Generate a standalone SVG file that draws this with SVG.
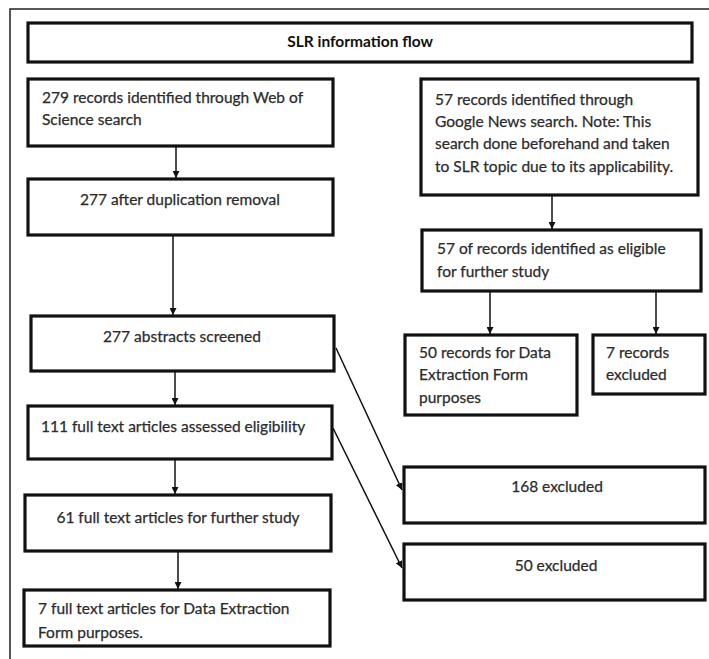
<svg xmlns="http://www.w3.org/2000/svg" width="709" height="659" viewBox="0 0 709 659">
<defs>
<marker id="ah" viewBox="0 0 10 10" refX="10" refY="5" markerWidth="7" markerHeight="7" markerUnits="userSpaceOnUse" orient="auto"><path d="M0,0 L10,5 L0,10 z" fill="#111"/></marker>
<style>
.box{fill:#fff;stroke:#111;stroke-width:3.2}
.t{font-family:Lato,"Liberation Sans",sans-serif;font-size:15.5px;fill:#2b2b2b;stroke:#2b2b2b;stroke-width:0.25}
.c{text-anchor:middle}
.b{font-weight:bold;fill:#111;stroke:none}
.con line{stroke:#111;stroke-width:1.5;marker-end:url(#ah)}
</style>
</defs>
<rect width="709" height="659" fill="#fff"/>
<path d="M10,659 V9 H709" fill="none" stroke="#222" stroke-width="1.5"/>
<g id="title"><rect class="box" x="28" y="23" width="664" height="39"/><text class="t c b" x="360" y="47">SLR information flow</text></g>
<g id="wos"><rect class="box" x="28" y="79" width="305" height="67"/><text class="t" x="42" y="103">279 records identified through Web of</text><text class="t" x="42" y="125">Science search</text></g>
<g id="dup"><rect class="box" x="28" y="179" width="305" height="56"/><text class="t c" x="180" y="205">277 after duplication removal</text></g>
<g id="abs"><rect class="box" x="31" y="316" width="303" height="55"/><text class="t c" x="182" y="342">277 abstracts screened</text></g>
<g id="full"><rect class="box" x="28" y="406" width="304" height="53"/><text class="t" x="41" y="432">111 full text articles assessed eligibility</text></g>
<g id="further"><rect class="box" x="25" y="495" width="306" height="56"/><text class="t c" x="178" y="523">61 full text articles for further study</text></g>
<g id="dataext"><rect class="box" x="24" y="590" width="306" height="56"/><text class="t" x="38" y="614">7 full text articles for Data Extraction</text><text class="t" x="38" y="638">Form purposes.</text></g>
<g id="gnews"><rect class="box" x="421" y="79" width="277" height="116"/><text class="t" x="435" y="105">57 records identified through</text><text class="t" x="435" y="127">Google News search. Note: This</text><text class="t" x="435" y="149">search done beforehand and taken</text><text class="t" x="435" y="172">to SLR topic due to its applicability.</text></g>
<g id="eligible"><rect class="box" x="422" y="230" width="279" height="61"/><text class="t" x="437" y="254">57 of records identified as eligible</text><text class="t" x="437" y="277">for further study</text></g>
<g id="gdata"><rect class="box" x="405" y="335" width="172" height="80"/><text class="t" x="419" y="358">50 records for Data</text><text class="t" x="419" y="380">Extraction Form</text><text class="t" x="419" y="403">purposes</text></g>
<g id="gexcl"><rect class="box" x="593" y="335" width="112" height="59"/><text class="t" x="606" y="358">7 records</text><text class="t" x="606" y="380">excluded</text></g>
<g id="ex168"><rect class="box" x="404" y="467" width="301" height="56"/><text class="t c" x="557" y="492">168 excluded</text></g>
<g id="ex50"><rect class="box" x="404" y="544" width="301" height="56"/><text class="t c" x="556" y="571">50 excluded</text></g>
<g class="con" id="connectors">
<line x1="176" y1="147" x2="176" y2="178"/>
<line x1="173" y1="236" x2="173" y2="315"/>
<line x1="175" y1="372" x2="175" y2="405"/>
<line x1="175" y1="460" x2="175" y2="494"/>
<line x1="178" y1="552" x2="178" y2="589"/>
<line x1="552" y1="196" x2="552" y2="229"/>
<line x1="490" y1="292" x2="490" y2="334"/>
<line x1="656" y1="292" x2="656" y2="334"/>
<line x1="336" y1="348" x2="402" y2="490"/>
<line x1="333" y1="428" x2="402" y2="568"/>
</g>
</svg>
